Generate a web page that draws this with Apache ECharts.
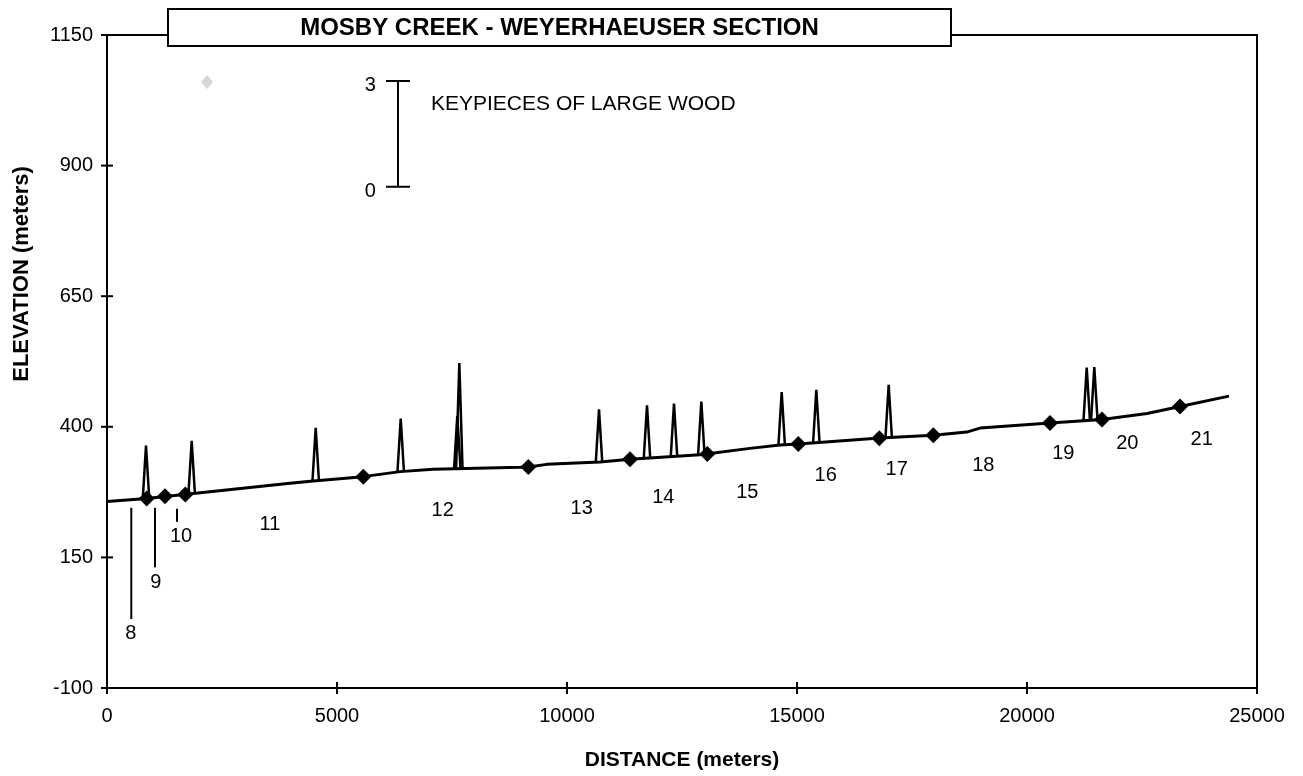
<!DOCTYPE html>
<html>
<head>
<meta charset="utf-8">
<title>Mosby Creek - Weyerhaeuser Section</title>
<script src="https://cdn.jsdelivr.net/npm/echarts@6/dist/echarts.min.js"></script>
<style>
  html, body { margin: 0; padding: 0; background: #fff; }
  #chart { width: 1303px; height: 776px; }
</style>
</head>
<body>
<div id="chart"></div>
<script>
// Longitudinal stream profile: distance upstream (m) vs. channel elevation (m)
const PROFILE_DIST = [0, 863, 1876, 3978, 4485, 5572, 6370, 7093, 8978, 9159, 9559, 10717, 11370,
  12891, 13978, 14630, 15028, 16804, 17963, 18689, 18978, 20500, 21630, 22609, 23326, 24391];
const PROFILE_ELEV = [257, 262.6, 272.5, 291.8, 296.2, 304.6, 314.2, 318.6, 322.4, 323, 328.1, 332.5, 337.7,
  346.7, 358.7, 365, 366.9, 378.4, 383.6, 389.9, 397.5, 407.1, 414.1, 425.6, 439, 458.7];

// Reach boundaries (diamond markers)
const BOUNDARY_DIST = [863, 1261, 1702, 5572, 9159, 11370, 13050, 15028, 16789, 17963, 20500, 21630, 23326];
const BOUNDARY_ELEV = [262.6, 267, 270.5, 304.6, 323, 337.7, 348, 366.9, 378.2, 383.6, 407.1, 414.1, 439];

// Key pieces of large wood: location, channel elevation at that point, count
const WOOD_DIST = [848, 1841, 4537, 6385, 7615, 7659, 10696, 11739, 12326, 12920, 14667, 15420, 16993, 21298, 21463];
const WOOD_BASE = [263, 272, 296.6, 314.5, 319.6, 319.6, 332.3, 339.8, 343.4, 347, 365.3, 369.5, 379.2, 412.3, 413.3];
const WOOD_PIECES = [1.5, 1.5, 1.5, 1.5, 1.5, 3, 1.5, 1.5, 1.5, 1.5, 1.5, 1.5, 1.5, 1.5, 1.5];

// Reach numbers
const REACH_IDS = ['8', '9', '10', '11', '12', '13', '14', '15', '16', '17', '18', '19', '20', '21'];

// Axis ticks
const X_TICKS = [0, 5000, 10000, 15000, 20000, 25000];
const Y_TICKS = [-100, 150, 400, 650, 900, 1150];

// Key-piece scale bar end labels
const SCALE_LABELS = [0, 3];

// ---- layout (not data) ----
const FONT = '"Liberation Sans", Arial, Helvetica, sans-serif';
const PIECE_HEIGHT = 67.5;       // elevation metres drawn per key piece
const SPIKE_HALF = 70;           // half base width of a spike, metres
const TICK_HALF = 6;             // ticks cross the axis line, px each side
// reach-number anchors in axis units, leader lines [x, top, bottom] for the crowded ones
const REACH_ANCHOR = [[515, 5], [1059, 102], [1609, 190], [3543, 213], [7298, 239], [10320, 243.5],
  [12093, 264.5], [13920, 274], [15624, 306], [17167, 318.6], [19050, 325], [20789, 349], [22180, 368], [23798, 376]];
const REACH_LEADER = [[528, 245, 32], [1043, 245, 131], [1522, 243, 218], null, null, null, null, null, null, null, null, null, null, null];
// scale bar anchor in axis units
const SCALE_ANCHOR = [6326, 859.5];

const X_MIN = X_TICKS[0], X_MAX = X_TICKS[X_TICKS.length - 1];
const Y_MIN = Y_TICKS[0], Y_MAX = Y_TICKS[Y_TICKS.length - 1];

const profileData = PROFILE_DIST.map((d, i) => [d, PROFILE_ELEV[i]]);
const boundaryData = BOUNDARY_DIST.map((d, i) => [d, BOUNDARY_ELEV[i]]);
const woodData = WOOD_DIST.map((d, i) => [d, WOOD_BASE[i], WOOD_PIECES[i]]);
const reachData = REACH_IDS.map((id, i) => [REACH_ANCHOR[i][0], REACH_ANCHOR[i][1], i]);
// tick marks: [x, y, 0 = on x axis | 1 = on y axis]
const tickData = X_TICKS.map(v => [v, Y_MIN, 0]).concat(Y_TICKS.map(v => [X_MIN, v, 1]));

const axisLineStyle = { color: '#000', width: 2 };
const plain = v => String(v);
const labelStyle = { color: '#000', fontSize: 20, fontFamily: FONT, formatter: plain };

const chart = echarts.init(document.getElementById('chart'), null, { renderer: 'canvas' });

chart.setOption({
  animation: false,
  backgroundColor: '#fff',
  grid: { left: 107, right: 46, top: 35, bottom: 87, show: true, borderColor: '#000', borderWidth: 2 },
  xAxis: {
    type: 'value', position: 'bottom', min: X_MIN, max: X_MAX, interval: X_TICKS[1] - X_TICKS[0],
    axisLine: { show: true, onZero: false, lineStyle: axisLineStyle },
    axisTick: { show: false },
    axisLabel: Object.assign({ margin: 18 }, labelStyle),
    splitLine: { show: false },
    name: 'DISTANCE (meters)', nameLocation: 'middle', nameGap: 62,
    nameTextStyle: { color: '#000', fontSize: 21, fontWeight: 'bold', fontFamily: FONT }
  },
  yAxis: {
    type: 'value', position: 'left', min: Y_MIN, max: Y_MAX, interval: Y_TICKS[1] - Y_TICKS[0],
    axisLine: { show: true, onZero: false, lineStyle: axisLineStyle },
    axisTick: { show: false },
    axisLabel: Object.assign({ margin: 14 }, labelStyle),
    splitLine: { show: false }
  },
  series: [
    {
      name: 'Channel profile', type: 'line', data: profileData, symbol: 'none', z: 3,
      lineStyle: { color: '#000', width: 3 }
    },
    {
      name: 'Key pieces', type: 'custom', data: woodData, z: 2,
      encode: { x: 0, y: 1 },
      renderItem: function (params, api) {
        const x = api.value(0), base = api.value(1), n = api.value(2);
        const p0 = api.coord([x - SPIKE_HALF, base]);
        const p1 = api.coord([x, base + n * PIECE_HEIGHT]);
        const p2 = api.coord([x + SPIKE_HALF, base]);
        return {
          type: 'polyline',
          shape: { points: [p0, p1, p2] },
          style: { stroke: '#000', lineWidth: 2.5, fill: null, lineJoin: 'miter' }
        };
      }
    },
    {
      name: 'Reach boundary', type: 'scatter', data: boundaryData, z: 5,
      symbol: 'diamond', symbolSize: [16, 16],
      itemStyle: { color: '#000', opacity: 1 }
    },
    {
      name: 'Axis ticks', type: 'custom', data: tickData, z: 6, clip: false, silent: true,
      encode: { x: 0, y: 1 },
      renderItem: function (params, api) {
        const p = api.coord([api.value(0), api.value(1)]);
        const onX = api.value(2) === 0;
        const shape = onX
          ? { x1: p[0], y1: p[1] - TICK_HALF, x2: p[0], y2: p[1] + TICK_HALF }
          : { x1: p[0] - TICK_HALF, y1: p[1], x2: p[0] + TICK_HALF, y2: p[1] };
        return { type: 'line', shape: shape, style: { stroke: '#000', lineWidth: 2 } };
      }
    },
    {
      name: 'Reach number', type: 'custom', data: reachData, z: 4,
      encode: { x: 0, y: 1 },
      renderItem: function (params, api) {
        const idx = api.value(2);
        const pt = api.coord([api.value(0), api.value(1)]);
        const children = [{
          type: 'text',
          style: {
            text: REACH_IDS[idx], x: pt[0], y: pt[1],
            fill: '#000', font: '20px ' + FONT,
            align: 'center', verticalAlign: 'middle', textAlign: 'center', textVerticalAlign: 'middle'
          }
        }];
        const ld = REACH_LEADER[idx];
        if (ld) {
          const a = api.coord([ld[0], ld[1]]);
          const b = api.coord([ld[0], ld[2]]);
          children.push({
            type: 'line',
            shape: { x1: a[0], y1: a[1], x2: b[0], y2: b[1] },
            style: { stroke: '#000', lineWidth: 2 }
          });
        }
        return { type: 'group', children: children };
      }
    },
    {
      name: 'Key piece scale', type: 'custom', data: [[SCALE_ANCHOR[0], SCALE_ANCHOR[1]]], z: 4,
      encode: { x: 0, y: 1 },
      renderItem: function (params, api) {
        const x = api.value(0), base = api.value(1);
        const lo = api.coord([x, base + SCALE_LABELS[0] * PIECE_HEIGHT]);
        const hi = api.coord([x, base + SCALE_LABELS[1] * PIECE_HEIGHT]);
        const txt = { fill: '#000', font: '20px ' + FONT };
        return {
          type: 'group',
          children: [
            { type: 'line', shape: { x1: lo[0], y1: lo[1], x2: hi[0], y2: hi[1] }, style: { stroke: '#000', lineWidth: 2 } },
            { type: 'line', shape: { x1: lo[0] - 12, y1: lo[1], x2: lo[0] + 12, y2: lo[1] }, style: { stroke: '#000', lineWidth: 2 } },
            { type: 'line', shape: { x1: hi[0] - 12, y1: hi[1], x2: hi[0] + 12, y2: hi[1] }, style: { stroke: '#000', lineWidth: 2 } },
            { type: 'text', style: Object.assign({ text: String(SCALE_LABELS[1]), x: hi[0] - 22, y: hi[1] + 5, align: 'right', verticalAlign: 'middle', textAlign: 'right', textVerticalAlign: 'middle' }, txt) },
            { type: 'text', style: Object.assign({ text: String(SCALE_LABELS[0]), x: lo[0] - 22, y: lo[1] + 5, align: 'right', verticalAlign: 'middle', textAlign: 'right', textVerticalAlign: 'middle' }, txt) },
            { type: 'text', style: Object.assign({ text: 'KEYPIECES OF LARGE WOOD', x: hi[0] + 33, y: hi[1] + 23, align: 'left', verticalAlign: 'middle', textAlign: 'left', textVerticalAlign: 'middle' }, txt, { font: '21px ' + FONT }) }
          ]
        };
      }
    }
  ],
  graphic: [
    {
      type: 'polygon', z: 10,
      shape: { points: [[207, 75], [213, 82], [207, 89], [201, 82]] },
      style: { fill: '#d6d6d6' }
    },
    {
      type: 'rect', z: 20,
      shape: { x: 168, y: 9, width: 783, height: 37 },
      style: { fill: '#fff', stroke: '#000', lineWidth: 2 }
    },
    {
      type: 'text', z: 21, x: 559.5, y: 28,
      style: { text: 'MOSBY CREEK - WEYERHAEUSER SECTION', fill: '#000', font: 'bold 24px ' + FONT, align: 'center', verticalAlign: 'middle', textAlign: 'center', textVerticalAlign: 'middle' }
    },
    {
      type: 'text', z: 21, x: 22, y: 274, rotation: Math.PI / 2,
      style: { text: 'ELEVATION (meters)', fill: '#000', font: 'bold 22px ' + FONT, align: 'center', verticalAlign: 'middle', textAlign: 'center', textVerticalAlign: 'middle' }
    }
  ]
});
</script>
</body>
</html>
